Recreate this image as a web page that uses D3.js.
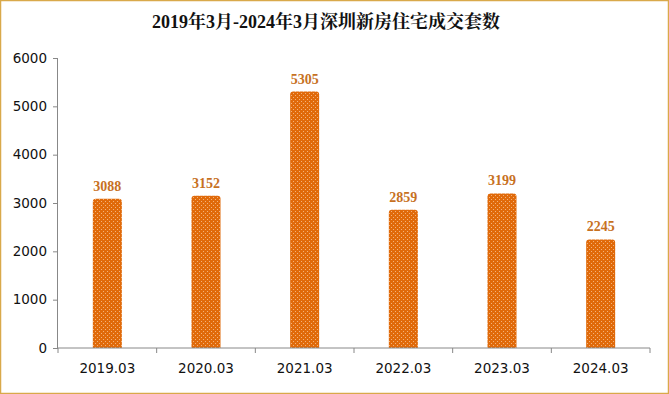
<!DOCTYPE html>
<html><head><meta charset="utf-8">
<script src="https://cdn.jsdelivr.net/npm/d3@7"></script>
<style>body{margin:0;background:#fff}svg{display:block}</style>
</head><body>
<svg id="c" width="669" height="394"></svg>
<script>
const categories = ["2019.03","2020.03","2021.03","2022.03","2023.03","2024.03"];
const values = [3088,3152,5305,2859,3199,2245];
const yTicks = [0,1000,2000,3000,4000,5000,6000];
const title = "2019年3月-2024年3月深圳新房住宅成交套数";

const svg = d3.select("#c");
const W = 669, H = 394;
const m = {l:58, r:19, t:58, b:46};
svg.append("rect").attr("x",0.5).attr("y",0.5).attr("width",W-1).attr("height",H-1)
  .attr("fill","#fff").attr("stroke","#d9a94a").attr("stroke-width",1.5);

const defs = svg.append("defs");
const pat = defs.append("pattern").attr("id","dots").attr("patternUnits","userSpaceOnUse")
  .attr("width",4).attr("height",4);
pat.append("rect").attr("width",4).attr("height",4).attr("fill","#e06a0a");
pat.append("rect").attr("x",1).attr("y",1).attr("width",1).attr("height",1).attr("fill","#f3b27a");
pat.append("rect").attr("x",3).attr("y",3).attr("width",1).attr("height",1).attr("fill","#f3b27a");

svg.append("text").attr("x",326).attr("y",28).attr("text-anchor","middle")
  .attr("font-family","'Liberation Serif','Noto Serif CJK SC','Noto Sans CJK SC',serif")
  .attr("font-weight","bold").attr("font-size",18).attr("fill","#111").text(title);

const x = d3.scaleBand().domain(categories).range([m.l, W-m.r]).paddingInner(0).paddingOuter(0);
const y = d3.scaleLinear().domain([0,6000]).range([H-m.b, m.t]);

const bw = 29;
svg.append("g").selectAll("path").data(values).join("path")
  .attr("d",(d,i)=>{
    const cx = x(categories[i]) + x.bandwidth()/2;
    const x0 = cx-bw/2, x1 = cx+bw/2, y0 = y(0), y1 = y(d), r=3;
    return `M${x0},${y0}V${y1+r}Q${x0},${y1} ${x0+r},${y1}H${x1-r}Q${x1},${y1} ${x1},${y1+r}V${y0}Z`;
  })
  .attr("fill","url(#dots)");

svg.append("g").selectAll("text").data(values).join("text")
  .attr("x",(d,i)=>x(categories[i]) + x.bandwidth()/2)
  .attr("y",d=>y(d)-8)
  .attr("text-anchor","middle")
  .attr("font-family","'Liberation Serif',serif").attr("font-weight","bold")
  .attr("font-size",14).attr("fill","#c7711f").text(d=>d);

const yAxis = svg.append("g").attr("transform",`translate(${m.l},0)`)
  .call(d3.axisLeft(y).tickValues(yTicks).tickSize(5).tickPadding(6).tickFormat(d3.format("d")));
yAxis.selectAll("text").attr("font-family","'DejaVu Sans',Verdana,sans-serif").attr("font-size",13.5).attr("fill","#111");
yAxis.selectAll("line").attr("stroke","#888");
yAxis.select(".domain").attr("stroke","#888").attr("d",`M-0.5,${y(6000)}V${y(0)}`);

const xg = svg.append("g").attr("transform",`translate(0,${y(0)})`);
xg.append("line").attr("x1",m.l).attr("x2",W-m.r).attr("stroke","#888");
xg.selectAll("line.t").data(d3.range(categories.length+1)).join("line").attr("class","t")
  .attr("x1",i=>m.l + i*x.bandwidth()).attr("x2",i=>m.l + i*x.bandwidth())
  .attr("y1",0).attr("y2",5).attr("stroke","#888");
xg.selectAll("text").data(categories).join("text")
  .attr("x",d=>x(d)+x.bandwidth()/2).attr("y",25).attr("text-anchor","middle")
  .attr("font-family","'DejaVu Sans',Verdana,sans-serif").attr("font-size",13.5).attr("fill","#111").text(d=>d);
</script>
</body></html>
